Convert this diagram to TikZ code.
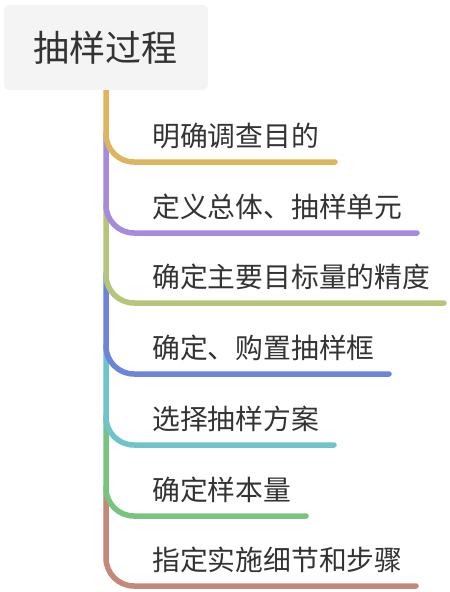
\documentclass[tikz,border=0pt]{standalone}
\usepackage{fontspec}
\newfontfamily\cjk{Noto Sans CJK SC}
\definecolor{txt}{HTML}{333333}
\definecolor{rootfill}{HTML}{F4F4F4}
\definecolor{cA}{HTML}{DDB55C}
\definecolor{cB}{HTML}{A68BDC}
\definecolor{cC}{HTML}{B5C67A}
\definecolor{cD}{HTML}{6E84D8}
\definecolor{cE}{HTML}{6EC4C6}
\definecolor{cF}{HTML}{78C47E}
\definecolor{cG}{HTML}{C48878}
\begin{document}
\begin{tikzpicture}[x=1pt,y=-1pt,
  rootbox/.style={fill=rootfill,rounded corners=5pt,minimum width=204pt,minimum height=85pt,inner sep=0pt,font=\cjk\fontsize{36}{40}\selectfont,text=txt},
  leaf/.style={anchor=west,inner sep=0pt,font=\cjk\fontsize{27.8}{32}\selectfont,text=txt},
  branch/.style={line width=5.5pt,line cap=round,rounded corners=28pt}]
\useasboundingbox (0,0) rectangle (450,592);
\node[rootbox] (root) at (106,47.5) {抽样过程};
% branch lines
\coordinate (s1) at (106,133);
\coordinate (s2) at (106,204);
\coordinate (s3) at (106,274);
\coordinate (s4) at (106,345);
\coordinate (s5) at (106,416);
\coordinate (s6) at (106,487);
\coordinate (e1) at (335,162);
\coordinate (e2) at (417,233);
\coordinate (e3) at (444,303);
\coordinate (e4) at (389,374);
\coordinate (e5) at (334,445);
\coordinate (e6) at (306,516);
\coordinate (e7) at (416,586);
\draw[branch,cG] (s6) |- (e7);
\draw[branch,cF] (s5) |- (e6);
\draw[branch,cE] (s4) |- (e5);
\draw[branch,cD] (s3) |- (e4);
\draw[branch,cC] (s2) |- (e3);
\draw[branch,cB] (s1) |- (e2);
\draw[branch,cA,line cap=butt] (root.south) |- (e1);
\draw[line width=5.5pt,cA,line cap=round] (e1) -- (e1);
% labels
\node[leaf] (n1) at (152,136) {明确调查目的};
\node[leaf] (n2) at (152,207) {定义总体、抽样单元};
\node[leaf] (n3) at (152,277) {确定主要目标量的精度};
\node[leaf] (n4) at (152,348) {确定、购置抽样框};
\node[leaf] (n5) at (152,419) {选择抽样方案};
\node[leaf] (n6) at (152,490) {确定样本量};
\node[leaf] (n7) at (152,560) {指定实施细节和步骤};
\end{tikzpicture}
\end{document}
